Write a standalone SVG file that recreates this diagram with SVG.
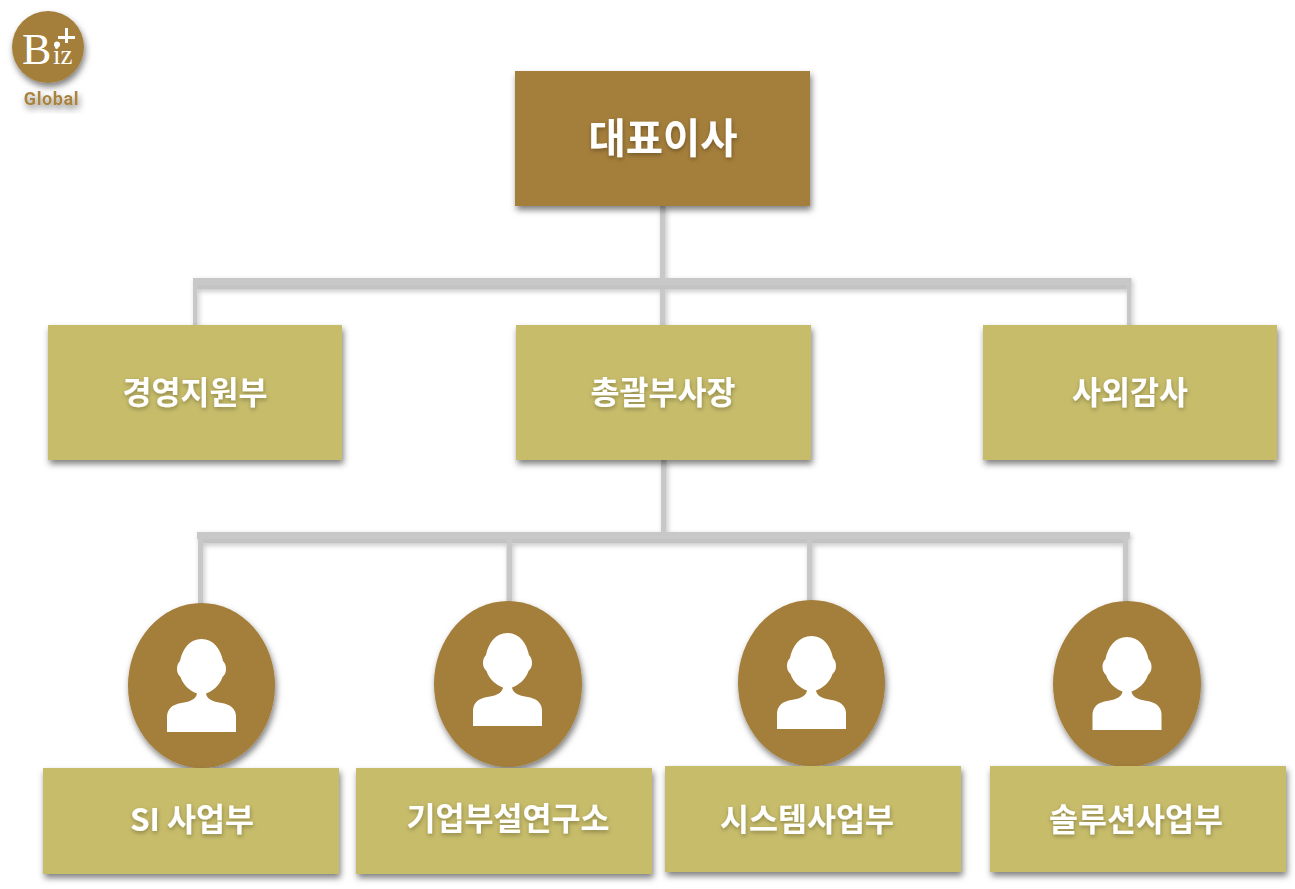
<svg xmlns="http://www.w3.org/2000/svg" xmlns:xlink="http://www.w3.org/1999/xlink" width="1295" height="889" viewBox="0 0 1295 889">
<style>
.top{fill:#a47e3b}
.box{fill:#c7bc6b}
.oval{fill:#a47e3b}
.t{font-family:"Noto Sans CJK KR","Noto Sans",sans-serif;font-weight:700;fill:#fff;text-anchor:middle;font-size:31.500px}
.tt{font-size:40.500px}
.ln{fill:#c8c8c8}
.ln2{fill:#c3c3c3}
.icon{fill:#fff}
.logo{font-family:"Liberation Serif",serif;fill:#fff}
</style>
<defs>
<filter id="sh" x="-15%" y="-15%" width="130%" height="135%"><feDropShadow dx="1.500" dy="4" stdDeviation="3" flood-color="#000" flood-opacity=".5"/></filter>
<filter id="lsh" x="-5%" y="-5%" width="110%" height="115%"><feDropShadow dx="1.500" dy="2" stdDeviation="2.500" flood-color="#000" flood-opacity=".22"/></filter>
<filter id="tsh" x="-10%" y="-20%" width="120%" height="150%"><feDropShadow dx="0.500" dy="2" stdDeviation="2" flood-color="#000" flood-opacity=".3"/></filter>
<path id="person" class="icon" d="M0 0C12 0 19 10 21.500 22C24 25 24.500 27 24.500 30C24.500 34 23 36 21 38C18 47 11 52 4.500 54.500C5 58 8 61 13 62.500C18 64 28 64 32 70C34 73 34.500 75 34.500 78L34.500 93L-34.500 93L-34.500 78C-34.500 75 -34 73 -32 70C-28 64 -18 64 -13 62.500C-8 61 -5 58 -4.500 54.500C-11 52 -18 47 -21 38C-23 36 -24.500 34 -24.500 30C-24.500 27 -24 25 -21.500 22C-19 10 -12 0 0 0Z"/>
</defs>
<g id="connectors" filter="url(#lsh)">
<rect class="ln" x="660" y="206" width="5.500" height="120"/>
<rect class="ln" x="193" y="278" width="938.500" height="7"/>
<rect class="ln2" x="197" y="285" width="930" height="4.500"/>
<rect class="ln" x="193" y="284" width="4.500" height="42"/>
<rect class="ln" x="1127" y="284" width="4.500" height="42"/>
<rect class="ln" x="661" y="460" width="5.500" height="80"/>
<rect class="ln" x="197" y="532" width="933" height="7"/>
<rect class="ln2" x="203" y="539" width="921" height="4.500"/>
<rect class="ln" x="198" y="538" width="5" height="66"/>
<rect class="ln" x="506.500" y="538" width="5.500" height="64"/>
<rect class="ln" x="807" y="538" width="5.500" height="64"/>
<rect class="ln" x="1123" y="538" width="5.500" height="64"/>
</g>
<g id="logo">
<circle cx="48" cy="47" r="36" class="top" filter="url(#sh)"/>
<text class="logo" x="22" y="64" font-size="44">B</text>
<text class="logo" x="53" y="64" font-size="27">iz</text>
<circle cx="57" cy="44.500" r="3" fill="#fff"/>
<rect x="58" y="36" width="17" height="3" fill="#fff"/>
<rect x="65" y="28" width="3" height="15" fill="#fff"/>
<text x="51.500" y="105" text-anchor="middle" font-family="Roboto,sans-serif" font-weight="700" font-size="18" letter-spacing=".6" fill="#a98440" filter="url(#sh)">Global</text>
</g>
<g id="ceo"><rect class="top" x="515" y="71" width="295" height="135" filter="url(#sh)"/><text class="t tt" x="663" y="153" filter="url(#tsh)">대표이사</text></g>
<g id="mgmt"><rect class="box" x="48" y="325" width="294" height="135" filter="url(#sh)"/><text class="t" x="195" y="404" filter="url(#tsh)">경영지원부</text></g>
<g id="vp"><rect class="box" x="516" y="325" width="295" height="135" filter="url(#sh)"/><text class="t" x="663" y="404" filter="url(#tsh)">총괄부사장</text></g>
<g id="audit"><rect class="box" x="983" y="325" width="294" height="135" filter="url(#sh)"/><text class="t" x="1130" y="404" filter="url(#tsh)">사외감사</text></g>
<g id="si">
<ellipse class="oval" cx="201.500" cy="685.500" rx="73.500" ry="82.500" filter="url(#sh)"/>
<use xlink:href="#person" href="#person" x="201.500" y="639"/>
<rect class="box" x="43" y="768" width="296" height="106" filter="url(#sh)"/><text class="t" x="192" y="831" filter="url(#tsh)">SI 사업부</text></g>
<g id="lab">
<ellipse class="oval" cx="508" cy="684" rx="74" ry="83" filter="url(#sh)"/>
<use xlink:href="#person" href="#person" x="507.500" y="633"/>
<rect class="box" x="356" y="768" width="296" height="106" filter="url(#sh)"/><text class="t" x="508" y="830" filter="url(#tsh)">기업부설연구소</text></g>
<g id="system">
<ellipse class="oval" cx="811.500" cy="683" rx="73.500" ry="83" filter="url(#sh)"/>
<use xlink:href="#person" href="#person" x="811.500" y="636"/>
<rect class="box" x="665" y="766" width="296" height="106" filter="url(#sh)"/><text class="t" x="807" y="831" filter="url(#tsh)">시스템사업부</text></g>
<g id="solution">
<ellipse class="oval" cx="1127" cy="684" rx="74" ry="83" filter="url(#sh)"/>
<use xlink:href="#person" href="#person" x="1127" y="637"/>
<rect class="box" x="990" y="766" width="296" height="106" filter="url(#sh)"/><text class="t" x="1136" y="831" filter="url(#tsh)">솔루션사업부</text></g>
</svg>
